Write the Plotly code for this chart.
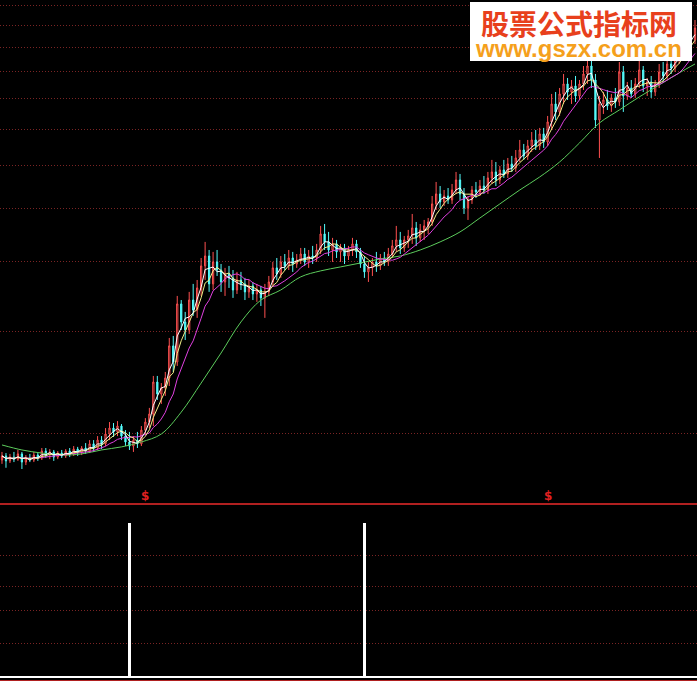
import plotly.graph_objects as go
import pandas as pd

# ---- price data (one value per trading bar) ----
opens = [
    7.56, 7.70, 7.53, 7.66, 7.59, 7.77, 7.49, 7.63, 7.56, 7.73,
    7.63, 7.87, 7.73, 7.84, 7.66, 7.80, 7.70, 7.87, 7.77, 7.94,
    7.84, 7.98, 7.87, 8.13, 7.98, 8.27, 8.13, 8.50, 8.73, 8.58,
    8.81, 8.42, 8.20, 8.05, 8.27, 8.13, 8.65, 8.97, 9.30, 10.74,
    10.18, 10.46, 10.94, 12.64, 11.76, 15.27, 14.08, 13.58, 15.54, 14.86,
    16.26, 18.12, 18.95, 16.71, 18.45, 17.79, 16.86, 17.48, 17.17, 16.26,
    17.01, 16.71, 16.12, 16.56, 15.97, 16.26, 15.69, 16.12, 16.86, 17.96,
    17.48, 18.45, 18.12, 18.78, 18.28, 18.61, 19.12, 18.45, 18.95, 18.78,
    19.47, 20.93, 20.19, 19.47, 20.01, 19.30, 19.65, 18.95, 19.47, 20.01,
    19.30, 18.28, 17.64, 17.96, 18.45, 18.12, 18.78, 18.45, 19.12, 19.83,
    20.37, 19.65, 20.37, 20.74, 21.50, 20.56, 21.31, 21.70, 22.09, 23.96,
    25.06, 24.17, 24.83, 24.39, 25.51, 26.69, 25.06, 23.53, 24.39, 25.51,
    25.28, 25.97, 25.51, 26.93, 27.67, 26.69, 27.92, 27.42, 28.68, 28.17,
    29.47, 30.55, 29.74, 31.11, 31.96, 31.11, 32.84, 31.67, 34.66, 37.59,
    36.26, 39.32, 41.13, 39.67, 40.76, 38.96, 41.13, 43.02, 44.59, 41.87,
    34.97, 37.59, 38.27, 37.25, 38.62, 37.93, 43.41, 38.96, 40.39, 39.32,
    41.13, 43.80, 40.76, 41.50, 39.67, 41.13, 43.41, 42.63, 45.00, 44.19,
    46.23, 47.50, 48.80, 51.05, 50.14,
]
highs = [
    7.84, 7.80, 7.77, 7.84, 7.91, 7.84, 7.73, 7.77, 7.84, 7.80,
    7.98, 7.98, 7.94, 7.91, 7.87, 7.91, 7.94, 7.98, 8.05, 8.02,
    8.05, 8.16, 8.27, 8.27, 8.42, 8.42, 8.73, 8.97, 8.93, 9.01,
    8.89, 8.65, 8.58, 8.42, 8.58, 8.81, 9.13, 9.56, 11.04, 11.04,
    10.69, 11.24, 13.10, 13.22, 15.83, 15.54, 14.73, 16.12, 16.71, 17.01,
    18.78, 20.19, 19.47, 19.30, 19.47, 18.28, 17.96, 18.12, 17.79, 17.64,
    17.64, 17.17, 17.01, 16.86, 16.71, 16.56, 16.71, 17.32, 18.45, 18.78,
    18.95, 19.12, 19.47, 19.30, 19.12, 19.65, 19.65, 19.47, 19.83, 20.01,
    21.70, 21.89, 21.12, 20.56, 20.37, 20.01, 20.01, 19.83, 20.56, 20.37,
    19.65, 18.95, 18.45, 18.78, 19.30, 19.12, 19.30, 19.65, 20.37, 21.70,
    21.12, 20.74, 21.31, 22.90, 22.09, 21.89, 22.29, 22.49, 24.83, 26.45,
    25.97, 25.51, 25.74, 26.21, 27.67, 27.42, 25.74, 24.83, 25.97, 26.45,
    26.69, 27.17, 27.67, 29.21, 28.94, 28.43, 29.21, 29.47, 29.74, 30.55,
    31.96, 31.39, 31.96, 33.13, 33.43, 33.74, 33.74, 35.61, 39.32, 39.67,
    40.39, 43.02, 42.25, 41.87, 42.63, 41.87, 44.59, 46.65, 46.65, 43.02,
    38.96, 39.67, 40.03, 39.32, 40.39, 45.40, 44.59, 41.50, 41.87, 42.25,
    45.82, 44.59, 42.25, 42.63, 41.87, 45.00, 45.40, 46.23, 46.65, 47.50,
    49.24, 50.14, 52.44, 53.40, 54.86,
]
lows = [
    7.43, 7.30, 7.46, 7.49, 7.53, 7.26, 7.39, 7.49, 7.49, 7.53,
    7.56, 7.63, 7.59, 7.53, 7.59, 7.63, 7.63, 7.66, 7.70, 7.70,
    7.73, 7.77, 7.80, 7.84, 7.91, 7.94, 8.05, 8.27, 8.39, 8.42,
    8.27, 8.05, 7.91, 7.84, 7.98, 8.05, 8.50, 8.73, 8.81, 9.91,
    9.73, 10.09, 10.55, 11.24, 11.55, 13.58, 12.98, 13.34, 14.47, 14.34,
    15.83, 17.01, 16.12, 16.26, 17.32, 16.12, 15.83, 16.41, 15.69, 15.97,
    16.26, 15.54, 15.69, 15.54, 15.41, 15.13, 14.34, 15.83, 16.56, 17.01,
    17.17, 17.79, 17.79, 17.64, 17.96, 18.28, 18.12, 17.96, 18.28, 18.45,
    19.12, 19.47, 18.95, 18.45, 18.78, 18.45, 18.28, 18.61, 18.95, 18.78,
    17.96, 17.17, 16.86, 17.32, 17.64, 17.79, 18.12, 18.12, 18.78, 19.30,
    19.12, 19.30, 19.65, 20.01, 19.83, 20.19, 20.37, 20.93, 21.70, 23.31,
    23.53, 23.74, 23.96, 23.96, 25.06, 24.39, 22.90, 22.29, 23.96, 24.61,
    24.83, 25.06, 25.06, 26.21, 25.97, 26.21, 26.93, 26.93, 27.67, 27.67,
    28.94, 29.21, 29.21, 30.28, 30.55, 30.55, 30.83, 31.11, 33.43, 34.97,
    35.61, 37.59, 38.27, 37.59, 37.93, 38.27, 40.03, 41.13, 40.39, 33.74,
    29.47, 35.93, 36.58, 36.26, 36.92, 37.25, 36.26, 38.27, 38.62, 38.62,
    40.39, 39.67, 38.96, 38.62, 38.96, 40.39, 41.50, 41.87, 43.02, 43.41,
    45.00, 45.82, 47.93, 48.80, 49.24,
]
closes = [
    7.70, 7.53, 7.66, 7.59, 7.77, 7.49, 7.63, 7.56, 7.73, 7.63,
    7.87, 7.73, 7.84, 7.66, 7.80, 7.70, 7.87, 7.77, 7.94, 7.84,
    7.98, 7.87, 8.13, 7.98, 8.27, 8.13, 8.50, 8.73, 8.58, 8.81,
    8.42, 8.20, 8.05, 8.27, 8.13, 8.65, 8.97, 9.30, 10.74, 10.18,
    10.46, 10.94, 12.64, 11.76, 15.27, 14.08, 13.58, 15.54, 14.86, 16.41,
    18.12, 18.95, 16.71, 18.45, 17.79, 16.86, 17.48, 17.17, 16.26, 17.01,
    16.71, 16.12, 16.56, 15.97, 16.26, 15.69, 16.12, 16.86, 17.96, 17.48,
    18.45, 18.12, 18.78, 18.28, 18.61, 19.12, 18.45, 18.95, 18.78, 19.47,
    20.93, 20.19, 19.47, 20.01, 19.30, 19.65, 18.95, 19.47, 20.01, 19.30,
    18.28, 17.64, 17.96, 18.45, 18.12, 18.78, 18.45, 19.12, 19.83, 20.37,
    19.65, 20.37, 20.74, 21.50, 20.56, 21.31, 21.70, 22.09, 23.96, 25.06,
    24.17, 24.83, 24.39, 25.51, 26.69, 25.06, 23.53, 24.39, 25.51, 25.28,
    25.97, 25.51, 26.93, 27.67, 26.69, 27.92, 27.42, 28.68, 28.17, 29.47,
    30.55, 29.74, 31.11, 31.96, 31.11, 32.84, 31.67, 34.66, 37.59, 36.26,
    39.32, 41.13, 39.67, 40.76, 38.96, 41.13, 43.02, 44.59, 41.87, 34.97,
    37.59, 38.27, 37.25, 38.62, 37.93, 43.41, 38.96, 40.39, 39.32, 41.13,
    43.80, 40.76, 41.50, 39.67, 41.13, 43.41, 42.63, 45.00, 44.19, 46.23,
    47.50, 48.80, 51.05, 50.14, 52.92,
]

# long moving average (one value every 5 bars)
green_idx = list(range(0, 171, 5)) + [174]
green_ma = [
    8.09, 7.91, 7.80, 7.73, 7.77, 7.91, 8.02, 8.20, 8.50, 9.38,
    10.69, 12.24, 14.08, 15.54, 16.26, 17.25, 17.72, 18.04, 18.36, 18.70,
    18.95, 19.47, 20.19, 21.12, 22.49, 23.96, 25.51, 27.05, 28.94, 31.53,
    34.50, 36.58, 38.79, 40.94, 43.21, 45.00,
]

signal_bars = [32, 91]          # bars where the lower indicator fires
dollar_bars = [36, 137]         # bars marked with "$"
grid_prices = [8.5, 13.5, 18.5, 23.5, 28.5, 33.5, 38.5, 43.5, 48.5, 53.5, 58.5]
sub_grid = [0.22, 0.43, 0.585, 0.79]

N = len(closes)
bars = list(range(N))
cs = pd.Series(closes)
ma_white = cs.rolling(3, min_periods=1).mean()
ma_yellow = cs.rolling(5, min_periods=1).mean()
ma_magenta = cs.rolling(10, min_periods=1).mean()
signal = [1 if i in signal_bars else 0 for i in bars]

RED = "#ff5050"
CYAN = "#54fcfc"
GRID = "#7a2424"
AXRED = "#b02020"

fig = go.Figure()
fig.add_trace(go.Candlestick(
    x=bars, open=opens, high=highs, low=lows, close=closes,
    increasing=dict(line=dict(color=RED, width=1), fillcolor="#000000"),
    decreasing=dict(line=dict(color=CYAN, width=1), fillcolor=CYAN),
    whiskerwidth=0, hoverinfo="skip", xaxis="x", yaxis="y"))
fig.add_trace(go.Scatter(x=green_idx, y=green_ma, mode="lines",
                         line=dict(color="#5ccc5c", width=1, shape="spline"),
                         hoverinfo="skip"))
fig.add_trace(go.Scatter(x=bars, y=ma_magenta, mode="lines",
                         line=dict(color="#e040e0", width=1), hoverinfo="skip"))
fig.add_trace(go.Scatter(x=bars, y=ma_yellow, mode="lines",
                         line=dict(color="#f4f088", width=1), hoverinfo="skip"))
fig.add_trace(go.Scatter(x=bars, y=ma_white, mode="lines",
                         line=dict(color="#ffffff", width=1), hoverinfo="skip"))
fig.add_trace(go.Bar(x=bars, y=signal, xaxis="x2", yaxis="y2", width=0.55,
                     marker=dict(color="#ffffff", line=dict(width=0)),
                     hoverinfo="skip"))

annotations = []
for b in dollar_bars:
    annotations.append(dict(x=b, xref="x", y=1 - 496 / 681, yref="paper",
                            text="<b>$</b>", showarrow=False,
                            font=dict(color="#e02020", size=12, family="DejaVu Sans"),
                            yanchor="middle"))
annotations.append(dict(
    x=578.5 / 697, y=1 - 32 / 681, xref="paper", yref="paper",
    text=("<span style='font-family:\"Noto Sans CJK SC\";font-size:28px;"
          "color:#e8401c;font-weight:bold'>股票公式指标网</span><br>"
          "<span style='font-family:\"Liberation Sans\";font-size:24px;"
          "color:#f5a01c;font-weight:bold'>www.gszx.com.cn</span>"),
    showarrow=False, font=dict(family="Liberation Sans", size=17, color="#f5a01c"),
    xanchor="center", yanchor="middle"))

split = 1 - 503 / 681
fig.update_layout(
    width=697, height=681, margin=dict(l=0, r=0, t=0, b=0),
    paper_bgcolor="#000000", plot_bgcolor="#000000", showlegend=False,
    hovermode=False, boxgap=0.55, bargap=0,
    xaxis=dict(domain=[0, 1], range=[-0.5, N - 0.5], anchor="y",
               showticklabels=False, showgrid=False, zeroline=False,
               showline=True, linecolor=AXRED, linewidth=2,
               rangeslider=dict(visible=False), ticks=""),
    yaxis=dict(domain=[split, 1], type="log", range=[0.79442, 1.77837],
               tickvals=grid_prices, showticklabels=False, showgrid=True,
               gridcolor=GRID, griddash="1px,2px", gridwidth=1, zeroline=False,
               showline=False, ticks=""),
    xaxis2=dict(domain=[0, 1], range=[-0.5, N - 0.5], anchor="y2",
                showticklabels=False, showgrid=False, zeroline=False,
                showline=True, linecolor=AXRED, linewidth=2, ticks=""),
    yaxis2=dict(domain=[1 / 681, split], range=[-0.0195, 1.13],
                tickvals=sub_grid, showticklabels=False, showgrid=True,
                gridcolor=GRID, griddash="1px,2px", gridwidth=1, zeroline=True,
                zerolinecolor="#ffffff", zerolinewidth=1.5,
                showline=False, ticks=""),
    shapes=[dict(type="rect", xref="paper", yref="paper",
                 x0=470 / 697, x1=692 / 697, y0=1 - 61 / 681, y1=1 - 2 / 681,
                 fillcolor="#ffffff", line=dict(width=0), layer="above")],
    annotations=annotations,
)

fig.write_html("out.html", config={"displayModeBar": False},
               post_script="document.body.style.margin='0px';")
